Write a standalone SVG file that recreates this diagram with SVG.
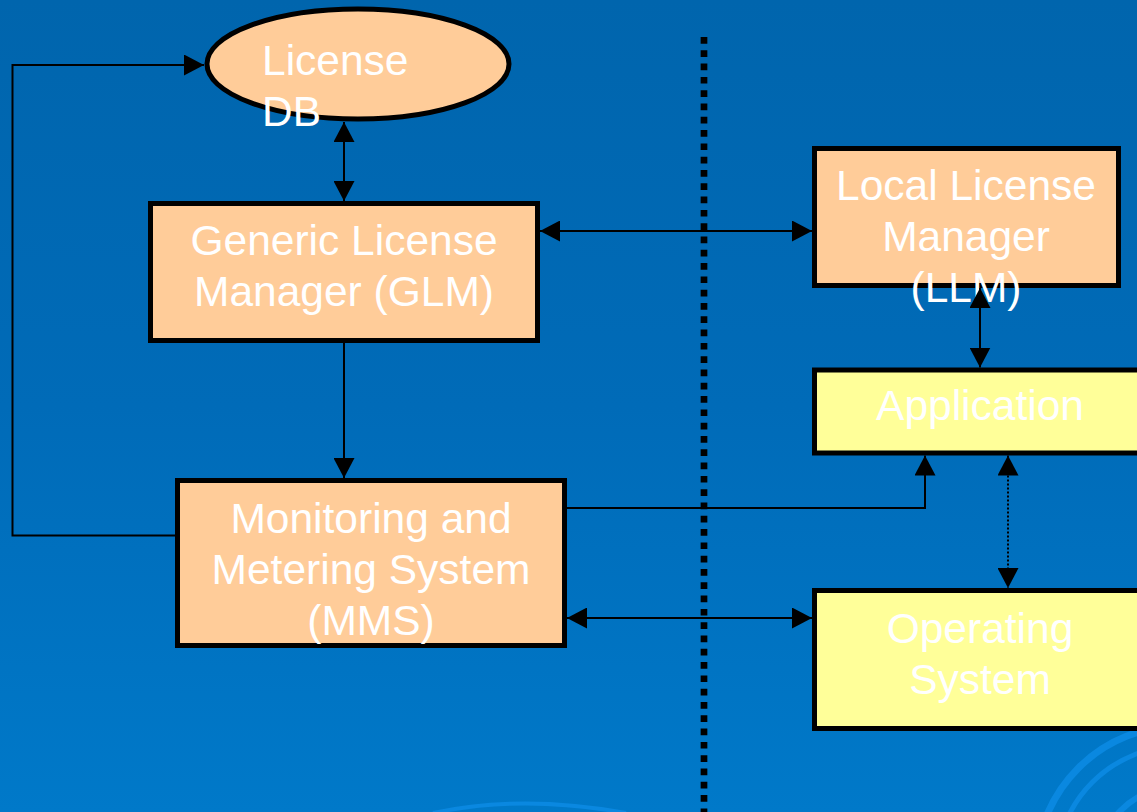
<svg xmlns="http://www.w3.org/2000/svg" width="1137" height="812" viewBox="0 0 1137 812">
  <defs>
    <linearGradient id="bg" x1="0" y1="0" x2="0" y2="1">
      <stop offset="0" stop-color="#0065ad"/>
      <stop offset="0.5" stop-color="#006bb8"/>
      <stop offset="1" stop-color="#0079c9"/>
    </linearGradient>
    <marker id="arrow" viewBox="0 0 20 21" refX="20" refY="10.5" markerWidth="20" markerHeight="21" markerUnits="userSpaceOnUse" orient="auto-start-reverse">
      <path d="M0,0 L20,10.5 L0,21 Z" fill="#000"/>
    </marker>
    <style>
      .lbl { font-family: "Liberation Sans", Arial, Helvetica, sans-serif; font-size: 42.5px; fill: #ffffff; }
      .mid { text-anchor: middle; }
      .peach { fill: #ffcc99; stroke: #000; stroke-width: 5; }
      .yellow { fill: #ffff99; stroke: #000; stroke-width: 5; }
      .wire { fill: none; stroke: #000; stroke-width: 2; }
      .swirl { fill: none; stroke: #0a88e0; }
    </style>
  </defs>

  <!-- backdrop -->
  <rect x="0" y="0" width="1137" height="812" fill="url(#bg)"/>
  <g id="decor">
    <path class="swirl" stroke-width="4" d="M433,813 Q522,794 626,813"/>
    <circle class="swirl" stroke-width="7" cx="1180" cy="870" r="144"/>
    <circle class="swirl" stroke-width="5" cx="1180" cy="870" r="124"/>
    <circle class="swirl" stroke-width="6" cx="1180" cy="870" r="84"/>
  </g>

  <!-- separator between server side and client side -->
  <line id="separator" x1="704" y1="37" x2="704" y2="812" stroke="#000" stroke-width="6.7" stroke-dasharray="6.7 6.6"/>

  <g id="license-db">
    <ellipse class="peach" cx="358" cy="64" rx="151" ry="55"/>
    <text class="lbl" x="262" y="75">License</text>
    <text class="lbl" x="262" y="126">DB</text>
  </g>

  <g id="glm">
    <rect class="peach" x="150.5" y="203.5" width="387" height="137"/>
    <text class="lbl mid" x="344" y="255">Generic License</text>
    <text class="lbl mid" x="344" y="306">Manager (GLM)</text>
  </g>

  <g id="mms">
    <rect class="peach" x="177.5" y="480.5" width="387" height="165"/>
    <text class="lbl mid" x="371" y="533">Monitoring and</text>
    <text class="lbl mid" x="371" y="584">Metering System</text>
    <text class="lbl mid" x="371" y="635">(MMS)</text>
  </g>

  <g id="llm">
    <rect class="peach" x="814.5" y="148.5" width="304" height="137"/>
    <text class="lbl mid" x="966" y="200">Local License</text>
    <text class="lbl mid" x="966" y="251">Manager</text>
    <text class="lbl mid" x="966" y="302">(LLM)</text>
  </g>

  <g id="application">
    <rect class="yellow" x="814.5" y="370" width="340" height="83"/>
    <text class="lbl mid" x="980" y="420">Application</text>
  </g>

  <g id="operating-system">
    <rect class="yellow" x="814.5" y="590.5" width="340" height="138"/>
    <text class="lbl mid" x="980" y="643">Operating</text>
    <text class="lbl mid" x="980" y="694">System</text>
  </g>

  <g id="connectors">
    <path class="wire" d="M176,535.5 H12.5 V65 H204" marker-end="url(#arrow)"/>
    <line class="wire" x1="344" y1="122" x2="344" y2="201" marker-start="url(#arrow)" marker-end="url(#arrow)"/>
    <line class="wire" x1="344" y1="343" x2="344" y2="478" marker-end="url(#arrow)"/>
    <line class="wire" x1="540" y1="231" x2="812" y2="231" marker-start="url(#arrow)" marker-end="url(#arrow)"/>
    <path class="wire" d="M567,508 H925 V455.5" marker-end="url(#arrow)"/>
    <line class="wire" x1="567" y1="618" x2="812" y2="618" marker-start="url(#arrow)" marker-end="url(#arrow)"/>
    <line class="wire" x1="980" y1="288" x2="980" y2="367.5" marker-start="url(#arrow)" marker-end="url(#arrow)"/>
    <line class="wire" x1="1008" y1="455.5" x2="1008" y2="588" stroke-dasharray="2 2" marker-start="url(#arrow)" marker-end="url(#arrow)"/>
  </g>
</svg>
